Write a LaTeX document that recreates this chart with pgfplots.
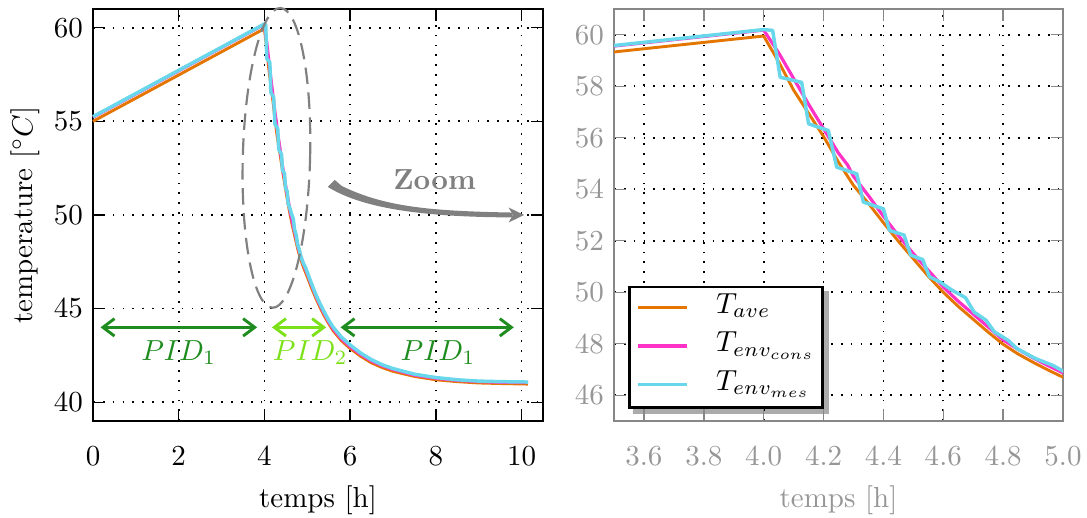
\documentclass[border=0pt]{standalone}
\usepackage{pgfplots}
\pgfplotsset{compat=1.18}
\usepackage{pgfplotstable}
\usetikzlibrary{arrows.meta,backgrounds}
\definecolor{cOrange}{RGB}{228,118,0}
\definecolor{cPink}{RGB}{255,50,200}
\definecolor{cCyan}{RGB}{105,215,235}
\definecolor{dGreen}{RGB}{30,140,30}
\definecolor{lGreen}{RGB}{125,225,25}
\definecolor{midGray}{RGB}{128,128,128}
\definecolor{frameGray}{RGB}{135,135,135}
\definecolor{labGray}{RGB}{150,150,150}

\pgfplotstableread{
x y
0 55.0
4.0 59.95
4.05 58.95
4.1 57.85
4.15 56.95
4.2 56.05
4.25 55.05
4.3 54.15
4.35 53.45
4.4 52.7
4.45 51.98
4.5 51.3
4.55 50.62
4.6 50.0
4.65 49.45
4.7 48.95
4.75 48.45
4.8 47.98
4.85 47.6
4.9 47.28
4.95 46.98
5.0 46.7
5.1 46.1
5.2 45.55
5.3 45.05
5.4 44.6
5.5 44.2
5.6 43.83
5.8 43.28
6.0 42.87
6.25 42.45
6.5 42.1
6.75 41.85
7.0 41.65
7.5 41.38
8.0 41.2
8.5 41.1
9.0 41.03
9.5 41.0
10.15 40.97
}\Tave

\pgfplotstableread{
x y
0 55.22
4.0 60.18
4.05 59.3
4.1 58.3
4.15 57.3
4.2 56.35
4.25 55.4
4.28 54.95
4.3 54.5
4.35 53.75
4.4 52.95
4.45 52.2
4.5 51.5
4.55 50.85
4.6 50.2
4.65 49.65
4.7 49.15
4.75 48.65
4.8 48.15
4.85 47.78
4.9 47.45
4.95 47.15
5.0 46.87
5.1 46.25
5.2 45.68
5.3 45.17
5.4 44.72
5.5 44.3
5.6 43.93
5.8 43.38
6.0 42.97
6.25 42.55
6.5 42.2
6.75 41.95
7.0 41.75
7.5 41.45
8.0 41.28
8.5 41.17
9.0 41.1
9.5 41.07
10.15 41.05
}\Tcons

\pgfplotstableread{
x y
0 55.25
4.0 60.2
4.03 60.17
4.055 58.35
4.127 58.15
4.15 56.54
4.216 56.28
4.244 54.86
4.311 54.6
4.333 53.5
4.4 53.24
4.42 52.4
4.469 52.22
4.491 51.44
4.531 51.27
4.554 50.6
4.589 50.4
4.629 50.08
4.674 49.79
4.703 49.23
4.743 48.91
4.771 48.46
4.817 48.13
4.846 47.81
4.909 47.42
4.966 47.16
5.0 46.94
5.1 46.33
5.2 45.75
5.3 45.25
5.4 44.8
5.5 44.38
5.6 44.02
5.8 43.47
6.0 43.06
6.25 42.62
6.5 42.27
6.75 42.0
7.0 41.8
7.5 41.5
8.0 41.32
8.5 41.2
9.0 41.13
9.5 41.1
10.15 41.08
}\Tmes

\begin{document}
\begin{tikzpicture}
\useasboundingbox (0,0) rectangle (374.83pt,-178.62pt);
\pgfplotsset{
  mygrid/.style={grid=major, grid style={black, line width=0.6pt, dash pattern=on 0.6pt off 2.8pt}},
  every axis plot/.append style={line join=round}
}
% ---------------- left axis ----------------
\begin{axis}[
  at={(32.07pt,-145.17pt)}, anchor=south west,
  scale only axis, width=155.17pt, height=142.07pt,
  xmin=0, xmax=10.5, ymin=39, ymax=61,
  xtick={0,2,...,10}, ytick={40,45,...,60},
  mygrid,
  axis line style={line width=0.9pt},
  major tick style={black, line width=0.5pt},
  xticklabel style={yshift=-5.5pt},
  xlabel={temps [h]},
  ylabel={temperature [$^\circ C$]},
  ylabel style={yshift=-2pt},
  clip=false,
]
\addplot[cOrange, line width=1pt] table[x=x,y=y] {\Tave};
\addplot[cPink, line width=1.1pt] table[x=x,y=y] {\Tcons};
\addplot[cCyan, line width=1.2pt] table[x=x,y=y] {\Tmes};
% zoom ellipse
\draw[midGray, line width=0.75pt, dash pattern=on 5.7pt off 2.9pt, rotate around={-1.5:(axis cs:4.28,53.05)}]
  (axis cs:4.28,53.05) ellipse [x radius=11.6pt, y radius=51.7pt];
% zoom arrow
\fill[midGray] (axis cs:5.478,51.50) -- (axis cs:5.641,51.87) -- (axis cs:5.804,51.55)
  .. controls (axis cs:6.807,50.43) and (axis cs:7.855,50.21) .. (axis cs:9.79,50.13)
  -- (axis cs:9.79,49.87)
  .. controls (axis cs:7.855,49.89) and (axis cs:6.340,50.27) .. (axis cs:5.478,51.50) -- cycle;
\fill[midGray] (axis cs:9.697,50.40) -- (axis cs:10.06,50.0) -- (axis cs:9.697,49.60) -- (axis cs:9.80,50.0) -- cycle;
\node[midGray, font=\bfseries] at (axis cs:7.97,51.87) {Zoom};
% PID arrows
\draw[dGreen, line width=1pt, {Straight Barb[length=4pt,width=6pt]}-{Straight Barb[length=4pt,width=6pt]}]
  (axis cs:0.175,44) -- (axis cs:3.83,44);
\draw[lGreen, line width=1pt, {Straight Barb[length=4pt,width=6pt]}-{Straight Barb[length=4pt,width=6pt]}]
  (axis cs:4.175,44) -- (axis cs:5.44,44);
\draw[dGreen, line width=1pt, {Straight Barb[length=4pt,width=6pt]}-{Straight Barb[length=4pt,width=6pt]}]
  (axis cs:5.775,44) -- (axis cs:9.82,44);
\node[dGreen, anchor=base] at (axis cs:2.0,42.25) {$PID_1$};
\node[lGreen, anchor=base] at (axis cs:5.07,42.25) {$PID_2$};
\node[dGreen, anchor=base] at (axis cs:8.05,42.25) {$PID_1$};
\end{axis}
% ---------------- right axis ----------------
\begin{axis}[
  at={(211.72pt,-145.17pt)}, anchor=south west,
  scale only axis, width=154.83pt, height=142.07pt,
  xmin=3.5, xmax=5.0, ymin=45, ymax=61,
  xtick={3.6,3.8,...,5.01}, ytick={46,48,...,60},
  xticklabel style={yshift=-5.5pt, /pgf/number format/.cd, fixed, fixed zerofill, precision=1},
  tick label style={labGray},
  mygrid,
  axis line style={frameGray, line width=0.8pt},
  major tick style={frameGray, line width=0.5pt},
  xlabel={temps [h]},
  xlabel style={labGray},
  legend cell align=left,
  legend image code/.code={\path (0pt,0.5pt) -- (16.8pt,0.5pt); \draw[#1] (3.4pt,0.5pt) -- (16.8pt,0.5pt);},
  legend style={name=leg, at={(0.031,0.029)}, anchor=south west, draw=black, line width=0.9pt,
    fill=white, inner xsep=2.5pt, inner ysep=2pt, row sep=2.3pt,
    nodes={inner xsep=0pt, inner ysep=0pt, text height=7pt, text depth=4pt}},
]
\addplot[cOrange, line width=1pt] table[x=x,y=y] {\Tave};
\addlegendentry{\hspace{9.5pt}$T_{ave}$}
\addplot[cPink, line width=1.1pt] table[x=x,y=y] {\Tcons};
\addlegendentry{\hspace{9.5pt}$T_{env_{cons}}$}
\addplot[cCyan, line width=1.2pt] table[x=x,y=y] {\Tmes};
\addlegendentry{\hspace{9.5pt}$T_{env_{mes}}$}
\end{axis}
\begin{pgfonlayer}{background}
\fill[black!33] ([shift={(1.8pt,-1.8pt)}]leg.south west) rectangle ([shift={(1.8pt,-1.8pt)}]leg.north east);
\end{pgfonlayer}
\end{tikzpicture}
\end{document}
